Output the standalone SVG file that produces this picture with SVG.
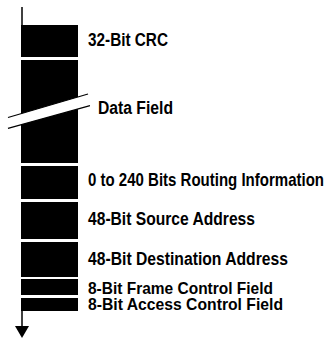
<svg xmlns="http://www.w3.org/2000/svg" width="329" height="338" viewBox="0 0 329 338">
  <style>
    .field { fill: #000; }
    .label { font-family: "Liberation Sans Narrow", "Liberation Sans", Arial, sans-serif; font-weight: bold; font-size: 17.5px; fill: #000; }
    .small { font-size: 16.5px; }
    .axis { stroke: #000; stroke-width: 1.5; fill: none; }
    .cut { stroke: #000; stroke-width: 1.2; fill: none; }
  </style>
  <rect width="329" height="338" fill="#fff"/>

  <!-- time axis running down the left side of the frame -->
  <g id="connectors">
    <line class="axis" x1="22" y1="7" x2="22" y2="25"/>
    <line class="axis" x1="22" y1="311" x2="22" y2="326"/>
    <path d="M15,326 L29,326 L22,338 Z" fill="#000"/>
  </g>

  <g id="crc">
    <rect class="field" x="21" y="25" width="57" height="32"/>
    <text class="label" x="88" y="46" textLength="80" lengthAdjust="spacingAndGlyphs">32-Bit CRC</text>
  </g>

  <g id="data-field">
    <rect class="field" x="21" y="60" width="57" height="103"/>
    <!-- break marks: the field is of variable length -->
    <polygon points="8,117.5 88,94 90,105.7 8,128.3" fill="#fff"/>
    <line class="cut" x1="8" y1="117.5" x2="88" y2="94"/>
    <line class="cut" x1="8" y1="128.3" x2="90" y2="105.7"/>
    <text class="label" x="98" y="114" textLength="75" lengthAdjust="spacingAndGlyphs">Data Field</text>
  </g>

  <g id="routing">
    <rect class="field" x="21" y="166" width="57" height="33"/>
    <!-- condensed horizontally so the long label fits the page -->
    <text class="label" transform="translate(88,186) scale(0.8,1)" x="0" y="0" textLength="295" lengthAdjust="spacingAndGlyphs">0 to 240 Bits Routing Information</text>
  </g>

  <g id="source">
    <rect class="field" x="21" y="202" width="57" height="37"/>
    <text class="label" x="88" y="224.5" textLength="167" lengthAdjust="spacingAndGlyphs">48-Bit Source Address</text>
  </g>

  <g id="destination">
    <rect class="field" x="21" y="242" width="57" height="35"/>
    <text class="label" x="88" y="264.5" textLength="200" lengthAdjust="spacingAndGlyphs">48-Bit Destination Address</text>
  </g>

  <g id="frame-control">
    <rect class="field" x="21" y="279" width="57" height="16"/>
    <text class="label small" x="88" y="293.5" textLength="185" lengthAdjust="spacingAndGlyphs">8-Bit Frame Control Field</text>
  </g>

  <g id="access-control">
    <rect class="field" x="21" y="298" width="57" height="13"/>
    <text class="label small" x="88" y="310" textLength="195" lengthAdjust="spacingAndGlyphs">8-Bit Access Control Field</text>
  </g>
</svg>
